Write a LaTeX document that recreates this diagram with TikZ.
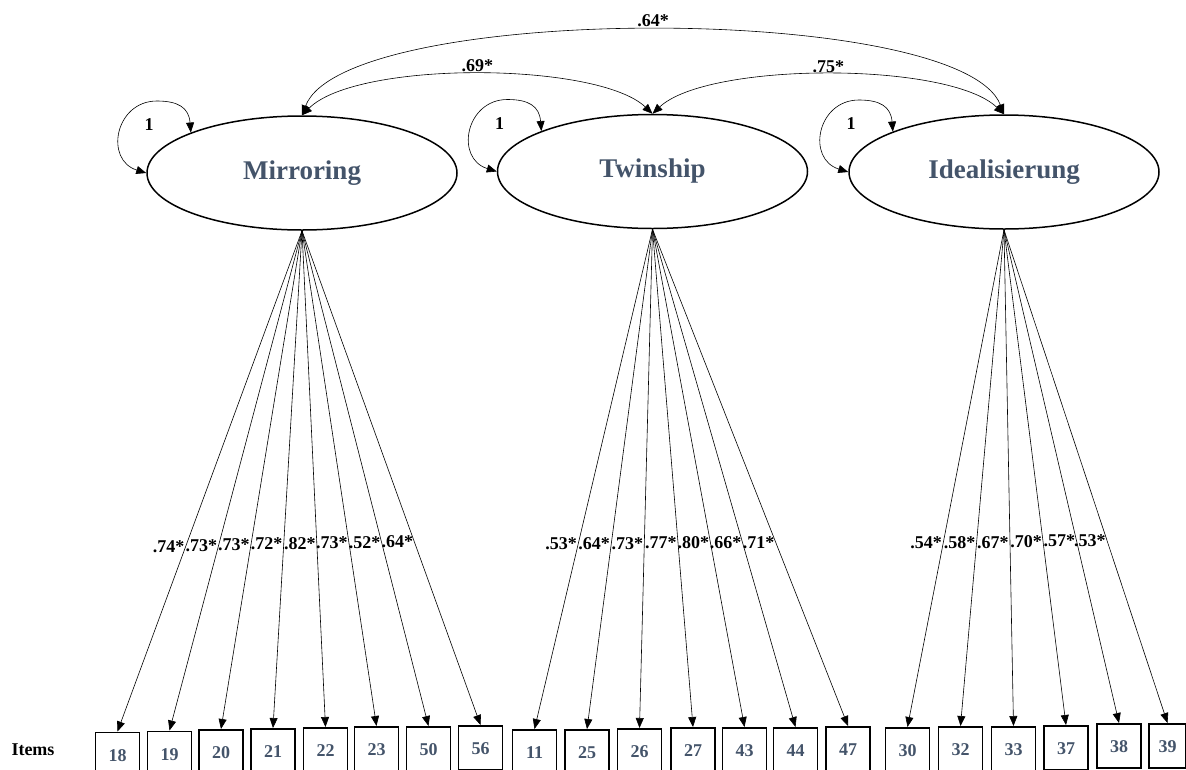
\documentclass[tikz,border=0pt]{standalone}
\usepackage{fontspec}
\setmainfont{Liberation Serif}
\usetikzlibrary{arrows.meta,shapes.geometric,calc}
\definecolor{latent}{HTML}{44546A}
\begin{document}
\begin{tikzpicture}[x=1pt,y=-1pt,
  factor/.style={ellipse, draw, line width=1.5pt, minimum width=310pt,
    minimum height=114pt, inner sep=0pt, text=latent,
    font=\fontsize{27}{32}\selectfont\bfseries},
  item/.style={rectangle, draw, line width=1.6pt, minimum width=44pt,
    inner xsep=0pt, inner ysep=4pt, text height=25pt, text depth=11pt,
    anchor=north, text=latent, font=\fontsize{18}{20}\selectfont\bfseries},
  lab/.style={font=\fontsize{18}{20}\selectfont\bfseries, inner sep=1pt},
  loadlab/.style={lab, pos=0.63, anchor=east},
  tip/.tip={Triangle[length=10pt,width=8pt]},
  load/.style={-tip, line width=0.6pt},
  cov/.style={tip-tip, line width=0.6pt}]
\useasboundingbox (0,0) rectangle (1186,769);
\clip (0,0) rectangle (1186,769);

% latent factors
\node[factor] (M) at (302,173) {Mirroring};
\node[factor] (T) at (652.5,171.5) {Twinship};
\node[factor] (I) at (1004,172) {Idealisierung};

% indicator items
\foreach \n/\x/\t in {18/117.5/731.5, 19/169.5/730.5, 20/221/729, 21/273/728,
    22/325.5/727, 23/376.5/726, 50/428.5/726, 56/480.5/725,
    11/534.5/729, 25/587/729, 26/639.5/728, 27/693/727, 43/744.5/727,
    44/795.5/727, 47/848/726,
    30/907.5/727, 32/960.5/726, 33/1013.5/726, 37/1066/725, 38/1119/723}
  \node[item] (b\n) at (\x,\t) {\n};
\node[item, minimum width=37pt] (b39) at (1167.5,723) {39};
\node[lab, anchor=base] (items) at (33,755) {Items};

% factor variances
\foreach \f in {M,T,I} {
  \draw[cov] (\f.160) .. controls +(-2,-25) and +(21,0) ..
    ($(\f.center)+(-145,-72)$) .. controls +(-42,0) and +(-42,-13) .. (\f.west);
  \node[lab] (var\f) at ($(\f.center)+(-153,-48)$) {1};
}

% factor covariances
\draw[cov] (M.north) .. controls +(43,-113) and +(-43,-112) .. (I.north)
  node[lab, midway, above=2pt] {.64*};
\draw[cov] (M.north) .. controls +(55,-55) and +(-55,-52) .. (T.north)
  node[lab, midway, above=1pt] {.69*};
\draw[cov] (T.north) .. controls +(55,-52) and +(-55,-53) .. (I.north)
  node[lab, midway, above=1pt] {.75*};

% loadings
\foreach \n/\l in {18/.74*, 19/.73*, 20/.73*, 21/.72*, 22/.82*, 23/.73*,
    50/.52*, 56/.64*}
  \draw[load] (M.south) -- (b\n.north) node[loadlab] {\l};
\foreach \n/\l in {11/.53*, 25/.64*, 26/.73*, 27/.77*, 43/.80*, 44/.66*, 47/.71*}
  \draw[load] (T.south) -- (b\n.north) node[loadlab] {\l};
\foreach \n/\l in {30/.54*, 32/.58*, 33/.67*, 37/.70*, 38/.57*, 39/.53*}
  \draw[load] (I.south) -- (b\n.north) node[loadlab] {\l};
\end{tikzpicture}
\end{document}
